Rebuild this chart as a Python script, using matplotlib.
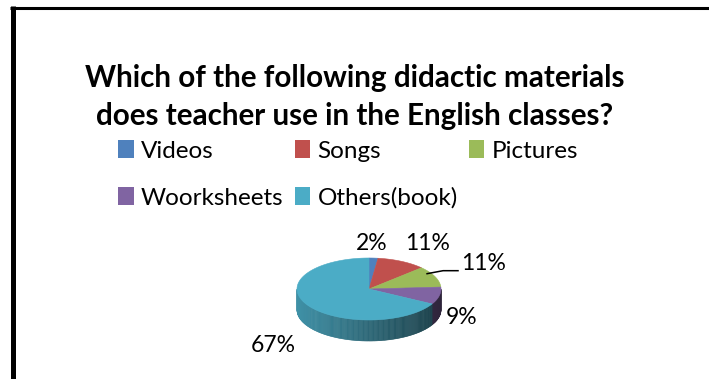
import numpy as np
import matplotlib.pyplot as plt
from matplotlib.patches import Patch, Polygon

plt.rcParams['font.family'] = ['Lato', 'DejaVu Sans']

# answers to the survey question, in percent
categories = ['Videos', 'Songs', 'Pictures', 'Woorksheets', 'Others(book)']
shares = [2, 11, 11, 9, 67]
colors = ['#4F81BD', '#C0504D', '#9BBB59', '#8064A2', '#4BACC6']

# where each percentage label sits (pixel coords of the canvas)
label_xy = [(372, 244), (428, 244), (484, 264), (462, 318), (273, 345)]

W, H = 709, 379
fig = plt.figure(figsize=(W / 100, H / 100), dpi=100)
ax = fig.add_axes([0, 0, 1, 1])
ax.set_xlim(0, W)
ax.set_ylim(H, 0)
ax.axis('off')

# frame: thick left edge and top edge only
ax.plot([12.5, 12.5], [6, H], color='black', lw=3.6, solid_capstyle='butt')
ax.plot([10, W], [7.5, 7.5], color='black', lw=2.2, solid_capstyle='butt')

ax.text(355, 97, 'Which of the following didactic materials\ndoes teacher use in the English classes?',
        ha='center', va='center', fontsize=21.3, fontweight='bold', linespacing=1.44)

# legend laid out row by row like the spreadsheet version
order = [0, 3, 1, 4, 2]
handles = [Patch(facecolor=colors[i], edgecolor='none') for i in order]
labels = [categories[i] for i in order]
ax.legend(handles, labels, ncol=3, loc='upper left', bbox_to_anchor=(106, 128),
          bbox_transform=ax.transData, frameon=False, fontsize=17.5, borderpad=0,
          handlelength=0.64, handleheight=0.76, handletextpad=0.3,
          columnspacing=0.45, labelspacing=1.05)

# 3d pie: ellipse top face plus a shaded front wall
cx, cy, a, b, depth = 369, 289, 72, 31, 21
vals = np.array(shares, dtype=float)
bounds = np.concatenate([[0], np.cumsum(vals) / vals.sum() * 360])


def rim(theta):
    t = np.radians(theta)
    return cx + a * np.sin(t), cy - b * np.cos(t)


def scale(c, f):
    c = np.array(plt.matplotlib.colors.to_rgb(c))
    return np.clip(c * f, 0, 1)


# front wall, only the lower half of the rim is visible
for i in range(len(vals)):
    lo, hi = max(bounds[i], 90), min(bounds[i + 1], 270)
    if hi <= lo:
        continue
    steps = np.linspace(lo, hi, max(int((hi - lo) / 1.0), 2) + 1)
    for t0, t1 in zip(steps[:-1], steps[1:]):
        x0, y0 = rim(t0)
        x1, y1 = rim(t1)
        tm = np.radians((t0 + t1) / 2)
        shade = 0.6 - 0.24 * np.sin(tm)
        fc = scale(colors[i], shade)
        ax.add_patch(Polygon([(x0, y0), (x1, y1), (x1, y1 + depth), (x0, y0 + depth)],
                             closed=True, facecolor=fc, edgecolor=fc, lw=0.4))

# top face slices
for i in range(len(vals)):
    th = np.linspace(bounds[i], bounds[i + 1], max(int(bounds[i + 1] - bounds[i]), 2) + 1)
    xs, ys = rim(th)
    pts = [(cx, cy)] + list(zip(xs, ys))
    ax.add_patch(Polygon(pts, closed=True, facecolor=colors[i], edgecolor=colors[i], lw=0.4))

# percentage labels
for i, (x, y) in enumerate(label_xy):
    ax.text(x, y, f'{shares[i]}%', ha='center', va='center', fontsize=16.5)

# leader line for the Pictures label
mid = (bounds[2] + bounds[3]) / 2
sx, sy = rim(mid)
ax.plot([sx - 8, sx + 8, label_xy[2][0] - 26], [sy - 3, sy - 6, sy - 6], color='black', lw=1.1)

fig.savefig('out.png', dpi=100)
